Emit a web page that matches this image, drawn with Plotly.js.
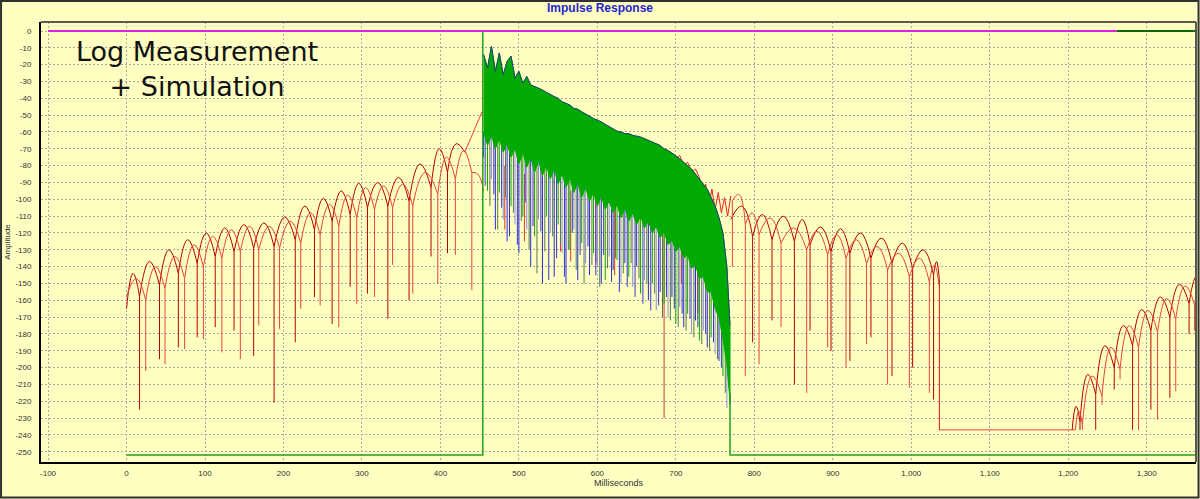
<!DOCTYPE html>
<html>
<head>
<meta charset="utf-8">
<script src="https://cdn.plot.ly/plotly-3.0.1.min.js"></script>
<style>
html,body{margin:0;padding:0;background:#FFFFC2;}
#chart{width:1200px;height:499px;}
</style>
</head>
<body>
<div id="chart"></div>
<script>
// ---------- tick labels ----------
const xTickVals = [-100,0,100,200,300,400,500,600,700,800,900,1000,1100,1200,1300];
const xTickText = ['-100','0','100','200','300','400','500','600','700','800','900','1,000','1,100','1,200','1,300'];
const yTickVals = [0,-10,-20,-30,-40,-50,-60,-70,-80,-90,-100,-110,-120,-130,-140,-150,-160,-170,-180,-190,-200,-210,-220,-230,-240,-250];
const yTickText = ['0','-10','-20','-30','-40','-50','-60','-70','-80','-90','-100','-110','-120','-130','-140','-150','-160','-170','-180','-190','-200','-210','-220','-230','-240','-250'];

// ---------- top level lines ----------
const magentaX = [-100, 1262];
const magentaY = [0, 0];
const dkGreenX = [1262, 1370];
const dkGreenY = [0, 0];

// ---------- green simulation baseline ----------
const greenPreX = [0, 454, 454];
const greenPreY = [-252, -252, 0];
const greenPostX = [769, 769, 1370];
const greenPostY = [-215, -252, -252];

// ---------- measurement A (dark red): left part ----------
const aLNullX = [0, 16.6, 42, 66, 90, 113, 137, 162, 188, 215, 239.5, 262, 285, 307, 333, 360, 388, 409, 431];
const aLTop   = [-165, -158, -151, -144, -138, -134, -131, -129, -128, -124, -118, -113, -109, -105, -104, -101, -93, -84, -72];
const aLBot   = [-165, -225, -195, -188, -182, -176, -178, -193, -221, -185, -158, -174, -152, -156, -171, -160, -134, -132, -72];
const aLPeak  = [-144, -137, -130, -124, -120, -117, -115, -114, -110.5, -104, -99.5, -95, -90.5, -90, -87, -79, -70, -67];
const aRiseX = [431, 453];
const aRiseY = [-72, -48];

// ---------- measurement B (bright red): left part ----------
const bLNullX = [0, 24.5, 49, 74, 98, 121.5, 145, 168.5, 195, 222, 246.7, 270.5, 293.4, 316, 339, 364.7, 396.6, 419, 440, 455];
const bLTop   = [-158, -160, -153, -147, -140, -135, -131, -130, -129, -126, -121, -116, -111, -106, -105, -104, -97, -88, -84, -95];
const bLBot   = [-158, -202, -198, -189, -183, -191, -195, -175, -177, -165, -163, -176, -162, -158, -139, -156, -150, -133, -154, -95];
const bLPeak  = [-147, -140, -134, -127, -122, -118, -116, -116, -113, -108, -103, -97.5, -93, -92, -91, -84, -75, -71, -85];

// ---------- measurement A: middle-right part ----------
const aMNullX = [770, 797.8, 822.5, 851, 871, 897.7, 921.8, 948.6, 975.4, 1001.7, 1028.4, 1036];
const aMTop   = [-112, -122, -124, -125, -127, -131, -132, -135, -138, -141, -145, -150];
const aMBot   = [-112, -185, -172, -210, -178, -190, -196, -182, -205, -200, -219, -237];
const aMPeak  = [-104, -109, -110, -112, -116.5, -117.5, -120, -123, -126, -130, -137];

// ---------- measurement B: middle-right part ----------
const bMNullX = [772, 788.5, 806, 834, 866.7, 893.4, 916.8, 943, 969.8, 997.5, 1023, 1035.7];
const bMTop   = [-101, -115, -121, -126, -130, -133, -135, -138, -142, -146, -149, -152];
const bMBot   = [-140, -205, -198, -176, -215, -188, -200, -186, -210, -212, -215, -237];
const bMPeak  = [-97, -108, -111, -117, -119, -121, -124, -128, -132, -135, -139];

// ---------- floor between the two arch groups ----------
const floorX = [1036, 1209];
const floorY = [-237, -237];

// ---------- measurement A / B: far-right part ----------
const aRNullX = [1205, 1215, 1235, 1258.6, 1282, 1305.3, 1329.5, 1354, 1378];
const aRTop   = [-237, -232, -216, -200, -187, -178, -170, -162, -150];
const aRBot   = [-237, -237, -237, -213, -237, -225, -218, -180, -150];
const aRPeak  = [-223, -204, -187, -175, -165.5, -158, -150.5, -144];
const bRNullX = [1209, 1218, 1243, 1266, 1289.6, 1313.8, 1337, 1361, 1385];
const bRTop   = [-237, -234, -217, -201, -188, -179, -171, -163, -152];
const bRBot   = [-237, -237, -222, -207, -237, -231, -214, -178, -152];
const bRPeak  = [-226, -205, -188, -175, -166, -159, -151.5, -146];

// ---------- red measurement above the decaying noise ----------
const redNoiseX = [700, 705, 710, 715, 720, 725, 730, 734, 738, 742, 746, 750, 754, 758, 762, 766, 770];
const redNoiseY = [-76, -74, -80, -78, -84, -82, -87, -98, -91, -104, -94, -106, -96, -108, -99, -110, -98];
const redSpikeX   = [482, 507, 553, 566, 598, 622, 685, 707, 728];
const redSpikeTop = [-80, -85, -95, -95, -100, -105, -115, -125, -140];
const redSpikeBot = [-118, -125, -131, -137, -138, -145, -230, -150, -168];

// ---------- simulated decay (dense noise band) ----------
const noiseX = [455,460,465,470,475,480,485,490,495,500,505,510,515,520,525,530,535,540,545,550,555,560,565,570,575,580,585,590,595,600,605,610,615,620,625,630,635,640,645,650,655,660,665,670,675,680,685,690,695,700,705,710,715,720,725,730,735,740,745,750,755,760,765,769];
const noiseTop = [-14,-22,-9,-24,-13,-26,-18,-15,-28,-24,-31,-27,-32,-33,-34,-35,-36.5,-38,-39,-40,-42,-43,-44,-46,-46.5,-48,-49.5,-50.5,-52,-53,-54,-55.5,-57,-58,-59.5,-60,-61,-61,-62,-62.5,-63,-64,-65,-66,-67,-68,-70,-71,-72.5,-74,-76,-78,-80,-82,-85,-88,-91,-94,-99,-104,-111,-120,-140,-175];
const noiseLow = [-60,-68,-62,-70,-64,-72,-67,-75,-70,-79,-72,-81,-75,-84,-77,-86,-80,-88,-82,-91,-85,-93,-87,-96,-90,-99,-93,-101,-96,-104,-98,-106,-101,-108,-103,-111,-105,-113,-108,-115,-110,-117,-113,-120,-116,-123,-119,-127,-124,-131,-128,-135,-133,-141,-139,-147,-146,-155,-155,-165,-170,-183,-198,-220];
const fringeTip = [-75,-95,-88,-118,-96,-112,-125,-104,-115,-132,-110,-118,-140,-122,-112,-150,-110,-120,-146,-115,-132,-150,-130,-118,-148,-126,-138,-145,-132,-140,-150,-148,-134,-142,-136,-150,-138,-146,-152,-140,-156,-148,-160,-150,-166,-155,-162,-170,-158,-174,-164,-176,-168,-180,-172,-184,-178,-188,-182,-192,-196,-205,-224,-222];
// second, interleaved set of fringe spikes
const fringe2X   = [457,463,468,473,478,483,488,493,498,503,508,513,518,523,528,533,538,543,548,553,558,563,568,573,578,583,588,593,598,603,608,613,618,623,628,633,638,643,648,653,658,663,668,673,678,683,688,693,698,703,708,713,718,723,728,733,738,743,748,753,758,763];
const fringe2Top = [-40,-40,-42,-44,-45,-47,-48,-50,-52,-53,-55,-56,-58,-59,-60,-62,-63,-64,-65,-67,-68,-69,-71,-72,-74,-75,-76,-78,-79,-80,-82,-83,-84,-86,-87,-88,-89,-90,-91,-92,-93,-95,-96,-98,-99,-101,-103,-105,-107,-109,-111,-114,-116,-119,-122,-126,-130,-134,-140,-146,-155,-165];
const fringe2Bot = [-92,-104,-97,-118,-105,-99,-122,-108,-127,-113,-102,-130,-116,-144,-119,-131,-148,-122,-135,-126,-146,-130,-120,-142,-133,-150,-128,-139,-145,-152,-133,-141,-149,-135,-155,-144,-152,-138,-158,-147,-162,-150,-166,-156,-163,-170,-158,-172,-165,-176,-168,-178,-171,-182,-176,-186,-180,-190,-185,-195,-200,-215];

// ---------- builders ----------
function archTraces(nx, top, bot, pk, color) {
  const ax = [], ay = [], sx = [], sy = [];
  for (let i = 0; i < pk.length; i++) {
    ax.push(nx[i], (nx[i] + nx[i + 1]) / 2, nx[i + 1], null);
    ay.push(top[i], pk[i], top[i + 1], null);
  }
  for (let i = 0; i < nx.length; i++) {
    if (bot[i] < top[i]) { sx.push(nx[i], nx[i], null); sy.push(top[i], bot[i], null); }
  }
  return [
    {x: ax, y: ay, mode: 'lines', line: {color: color, width: 1, shape: 'spline', smoothing: 1.3}},
    {x: sx, y: sy, mode: 'lines', line: {color: color, width: 1}}
  ];
}
function spikeTrace(xs, tops, bots, color, pick) {
  const sx = [], sy = [];
  for (let i = 0; i < xs.length; i++) {
    if (pick(i) && bots[i] < tops[i]) { sx.push(xs[i], xs[i], null); sy.push(tops[i], bots[i], null); }
  }
  return {x: sx, y: sy, mode: 'lines', line: {color: color, width: 1}};
}

const colA = '#B80000';
const colB = '#E84436';

let traces = [];
traces = traces.concat(archTraces(aLNullX, aLTop, aLBot, aLPeak, colA));
traces = traces.concat(archTraces(bLNullX, bLTop, bLBot, bLPeak, colB));
traces.push({x: aRiseX, y: aRiseY, mode: 'lines', line: {color: colB, width: 1}});
traces = traces.concat(archTraces(aMNullX, aMTop, aMBot, aMPeak, colA));
traces = traces.concat(archTraces(bMNullX, bMTop, bMBot, bMPeak, colB));
traces.push({x: floorX, y: floorY, mode: 'lines', line: {color: colB, width: 1}});
traces = traces.concat(archTraces(aRNullX, aRTop, aRBot, aRPeak, colA));
traces = traces.concat(archTraces(bRNullX, bRTop, bRBot, bRPeak, colB));
traces.push({x: redNoiseX, y: redNoiseY, mode: 'lines', line: {color: '#F02020', width: 1}});
traces.push(spikeTrace(redSpikeX, redSpikeTop, redSpikeBot, '#D83A30', () => true));

// fringe spikes below the dense band
traces.push(spikeTrace(fringe2X, fringe2Top, fringe2Bot, '#3434D4', i => i % 2 === 0));
traces.push(spikeTrace(fringe2X, fringe2Top, fringe2Bot, '#4E7A55', i => i % 2 === 1));
traces.push(spikeTrace(noiseX, noiseLow, fringeTip, '#2A2AE0', i => i % 3 === 0));
traces.push(spikeTrace(noiseX, noiseLow, fringeTip, '#12A012', i => i % 3 === 1));
traces.push(spikeTrace(noiseX, noiseLow, fringeTip, '#8C8CE6', i => i % 3 === 2));

// dense green band
traces.push({
  x: noiseX.concat(noiseX.slice().reverse()),
  y: noiseTop.concat(noiseLow.slice().reverse()),
  mode: 'lines', fill: 'toself', fillcolor: '#00AA00',
  line: {color: '#00AA00', width: 1}
});
traces.push({x: noiseX, y: noiseTop, mode: 'lines', line: {color: '#23407A', width: 1}});

// baselines and top lines
traces.push({x: greenPreX, y: greenPreY, mode: 'lines', line: {color: '#22A022', width: 1.5}});
traces.push({x: greenPostX, y: greenPostY, mode: 'lines', line: {color: '#22A022', width: 1.5}});
traces.push({x: magentaX, y: magentaY, mode: 'lines', line: {color: '#E020E0', width: 2}});
traces.push({x: dkGreenX, y: dkGreenY, mode: 'lines', line: {color: '#0A6A0A', width: 2}});

traces.forEach(t => { t.type = 'scatter'; t.hoverinfo = 'skip'; t.showlegend = false; });

const tickFont = {family: 'Liberation Sans, Arial, sans-serif', size: 8, color: '#333333'};

const layout = {
  width: 1200, height: 499,
  margin: {l: 41, r: 4, t: 22, b: 37, pad: 0},
  paper_bgcolor: '#FFFFC2',
  plot_bgcolor: '#FFFFC2',
  showlegend: false,
  hovermode: false,
  title: {
    text: '<b>Impulse Response</b>',
    font: {family: 'Liberation Sans, Arial, sans-serif', size: 12, color: '#2424D0'},
    x: 0.5, xref: 'container', xanchor: 'center',
    y: 0.985, yref: 'container', yanchor: 'middle'
  },
  xaxis: {
    range: [-109, 1362.8],
    tickvals: xTickVals, ticktext: xTickText,
    tickfont: tickFont,
    ticks: '', ticklabelstandoff: 2,
    showgrid: true, gridcolor: '#A8A8A0', gridwidth: 1, griddash: '2px,2px',
    zeroline: false,
    showline: true, linecolor: '#000000', linewidth: 2,
    title: {text: 'Milliseconds', font: {family: 'Liberation Sans, Arial, sans-serif', size: 9, color: '#333333'}, standoff: 3},
    automargin: false, fixedrange: true
  },
  yaxis: {
    range: [-256.1, 5.35],
    tickvals: yTickVals, ticktext: yTickText,
    tickfont: tickFont,
    ticks: '', ticklabelstandoff: 6,
    showgrid: true, gridcolor: '#A8A8A0', gridwidth: 1, griddash: '2px,2px',
    zeroline: false,
    showline: true, linecolor: '#000000', linewidth: 2,
    title: {text: 'Amplitude', font: {family: 'Liberation Sans, Arial, sans-serif', size: 8, color: '#333333'}, standoff: 4},
    automargin: false, fixedrange: true
  },
  annotations: [
    {text: 'Log Measurement<br>+ Simulation', xref: 'paper', yref: 'paper', x: 0.135, y: 0.893,
     xanchor: 'center', yanchor: 'middle', align: 'center',
     showarrow: false, font: {family: 'DejaVu Sans, sans-serif', size: 27, color: '#111111'}}
  ],
  shapes: [
    {type: 'line', xref: 'paper', yref: 'paper', x0: 0, x1: 1, y0: 1, y1: 1, line: {color: '#5A5A50', width: 2}},
    {type: 'line', xref: 'paper', yref: 'paper', x0: 1, x1: 1, y0: 0, y1: 1, line: {color: '#5A5A50', width: 2}},
    {type: 'rect', xref: 'paper', yref: 'paper', x0: -0.0346, x1: 1.0022, y0: -0.0807, y1: 1.0477, line: {color: '#303030', width: 2}}
  ]
};

Plotly.newPlot('chart', traces, layout, {displayModeBar: false, staticPlot: true});
</script>
</body>
</html>
